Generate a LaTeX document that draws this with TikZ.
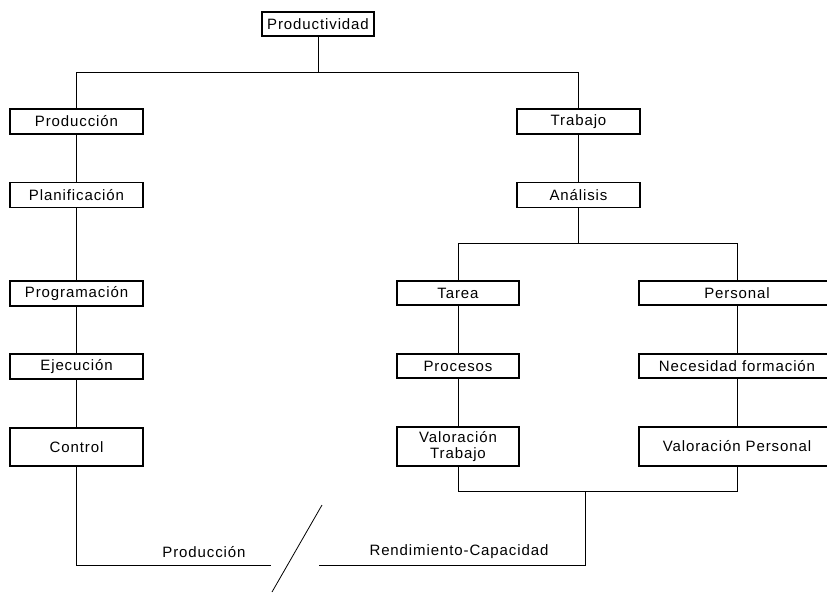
\documentclass[tikz,border=0pt]{standalone}
\usepackage{fontspec}
\setmainfont{Liberation Sans}[LetterSpace=6]
\begin{document}
\begin{tikzpicture}[x=1pt,y=-1pt,
  box/.style={draw=black, line width=1.6pt, fill=white, inner sep=1pt,
    font=\fontsize{15}{16}\selectfont, align=center, minimum height=25},
  lbl/.style={font=\fontsize{15}{16}\selectfont, inner sep=0pt},
  conn/.style={draw=black, line width=0.8pt}]
\useasboundingbox (0,0) rectangle (827,594);
\clip (0,0) rectangle (827,594);
\fill[white] (0,0) rectangle (827,594);
% left column
\node[box, minimum width=112, minimum height=24] (top) at (318,24) {Productividad};
\node[box, minimum width=133] (prodn) at (76.5,121.5) {Producción};
\node[box, minimum width=133] (plan) at (76.5,195) {Planificación};
\node[box, minimum width=133] (prog) at (76.5,293.5) {Programación};
\node[box, minimum width=133] (ejec) at (76.5,366.5) {Ejecución};
\node[box, minimum width=133, minimum height=38] (ctrl) at (76.5,447) {Control};
% right
\node[box, minimum width=123] (trab) at (578.5,121.5) {Trabajo};
\node[box, minimum width=123] (anal) at (578.5,195) {Análisis};
\node[box, minimum width=122, minimum height=24] (tarea) at (458,293) {Tarea};
\node[box, minimum width=122, minimum height=24] (proc) at (458,366) {Procesos};
\node[box, minimum width=122, minimum height=39] (valt) at (458,446.5) {Valoración\\Trabajo};
\node[box, minimum width=196, minimum height=24] (pers) at (737,293) {Personal};
\node[box, minimum width=196, minimum height=24] (nec) at (737,366) {Necesidad formación};
\node[box, minimum width=196, minimum height=39] (valp) at (737,446.5) {Valoración Personal};
% junctions
\coordinate (j1) at (318,72);
\coordinate (j2) at (578.5,243);
\coordinate (j3) at (585,491);
\coordinate (b1) at (585,565);
\coordinate (rEnd) at (319,565);
\coordinate (lEnd) at (271,565);
\coordinate (s1) at (322,505);
\coordinate (s2) at (272,592);
% connectors
\draw[conn] (top.south) -- (j1);
\draw[conn] (prodn.north) -- (prodn.north |- j1) -- (trab.north |- j1) -- (trab.north);
\draw[conn] (prodn.south) -- (plan.north);
\draw[conn] (plan.south) -- (prog.north);
\draw[conn] (prog.south) -- (ejec.north);
\draw[conn] (ejec.south) -- (ctrl.north);
\draw[conn] (trab.south) -- (anal.north);
\draw[conn] (anal.south) -- (j2);
\draw[conn] (tarea.north) -- (tarea.north |- j2) -- (pers.north |- j2) -- (pers.north);
\draw[conn] (tarea.south) -- (proc.north);
\draw[conn] (proc.south) -- (valt.north);
\draw[conn] (pers.south) -- (nec.north);
\draw[conn] (nec.south) -- (valp.north);
\draw[conn] (valt.south) -- (valt.south |- j3) -- (valp.south |- j3) -- (valp.south);
\draw[conn] (j3) -- (b1) -- (rEnd);
\draw[conn] (ctrl.south) -- (ctrl.south |- lEnd) -- (lEnd);
\draw[conn] (s1) -- (s2);
% labels
\node[lbl] (lp) at (204,552) {Producción};
\node[lbl] (lr) at (459,552) {Rendimiento-Capacidad};
\end{tikzpicture}
\end{document}
